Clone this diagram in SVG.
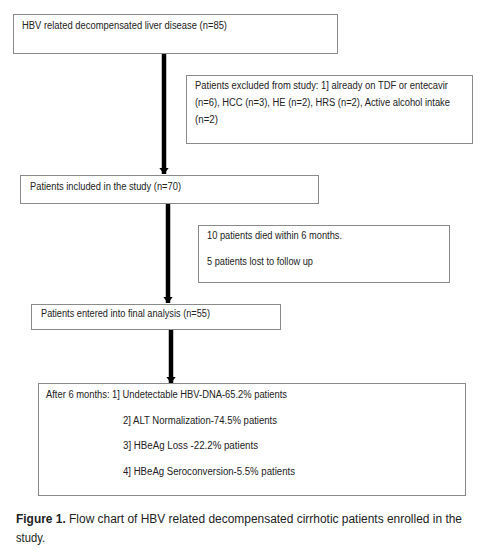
<svg xmlns="http://www.w3.org/2000/svg" width="488" height="559" viewBox="0 0 488 559">
<style>
.box{fill:#fff;stroke:#8a8a8a;stroke-width:1}
.t{font-family:"Liberation Sans",Arial,sans-serif;font-size:10px;fill:#222}
.cap{font-family:"Liberation Sans",Arial,sans-serif;font-size:12.5px;fill:#222}
.arr{stroke:#000;stroke-width:4.5;fill:none}
</style>
<defs>
<marker id="ah" viewBox="0 0 10 10" refX="10" refY="5" markerWidth="1.4" markerHeight="2.2" orient="auto" markerUnits="strokeWidth" preserveAspectRatio="none">
<path d="M0,0 L10,5 L0,10 z" fill="#000"/>
</marker>
</defs>
<rect width="488" height="559" fill="#fff"/>
<g id="connectors">
<line class="arr" x1="164" y1="53" x2="164" y2="174" marker-end="url(#ah)"/>
<line class="arr" x1="168" y1="203" x2="168" y2="303" marker-end="url(#ah)"/>
<line class="arr" x1="171" y1="329" x2="171" y2="383" marker-end="url(#ah)"/>
</g>
<g id="n1">
<rect class="box" x="13.5" y="14.5" width="324" height="39"/>
<text class="t" x="22" y="29" textLength="205" lengthAdjust="spacingAndGlyphs">HBV related decompensated liver disease (n=85)</text>
</g>
<g id="n2">
<rect class="box" x="186.5" y="75.5" width="286" height="68"/>
<text class="t" x="195" y="89" textLength="253" lengthAdjust="spacingAndGlyphs">Patients excluded from study: 1] already on TDF or entecavir</text>
<text class="t" x="195" y="106" textLength="255" lengthAdjust="spacingAndGlyphs">(n=6), HCC (n=3), HE (n=2), HRS (n=2), Active alcohol intake</text>
<text class="t" x="195" y="123" textLength="23" lengthAdjust="spacingAndGlyphs">(n=2)</text>
</g>
<g id="n3">
<rect class="box" x="20.5" y="175.5" width="298" height="28"/>
<text class="t" x="30" y="190" textLength="151" lengthAdjust="spacingAndGlyphs">Patients included in the study (n=70)</text>
</g>
<g id="n4">
<rect class="box" x="198.5" y="225.5" width="251" height="57"/>
<text class="t" x="207" y="239" textLength="135" lengthAdjust="spacingAndGlyphs">10 patients died within 6 months.</text>
<text class="t" x="207" y="265" textLength="106" lengthAdjust="spacingAndGlyphs">5 patients lost to follow up</text>
</g>
<g id="n5">
<rect class="box" x="31.5" y="304.5" width="249" height="25"/>
<text class="t" x="41" y="317" textLength="169" lengthAdjust="spacingAndGlyphs">Patients entered into final analysis (n=55)</text>
</g>
<g id="n6">
<rect class="box" x="38.5" y="383.5" width="427" height="112"/>
<text class="t" x="46" y="398" textLength="241" lengthAdjust="spacingAndGlyphs">After 6 months: 1] Undetectable HBV-DNA-65.2% patients</text>
<text class="t" x="123" y="424" textLength="154" lengthAdjust="spacingAndGlyphs">2] ALT Normalization-74.5% patients</text>
<text class="t" x="123" y="449" textLength="135" lengthAdjust="spacingAndGlyphs">3] HBeAg Loss -22.2% patients</text>
<text class="t" x="123" y="475" textLength="172" lengthAdjust="spacingAndGlyphs">4] HBeAg Seroconversion-5.5% patients</text>
</g>
<text class="cap" x="16" y="523" textLength="446" lengthAdjust="spacingAndGlyphs"><tspan font-weight="bold">Figure 1.</tspan> Flow chart of HBV related decompensated cirrhotic patients enrolled in the</text>
<text class="cap" x="16" y="542" textLength="29" lengthAdjust="spacingAndGlyphs">study.</text>
</svg>
